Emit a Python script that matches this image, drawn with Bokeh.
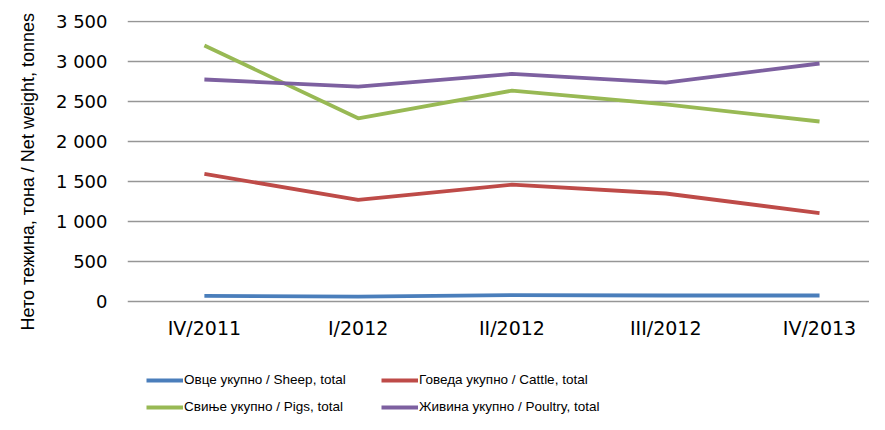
from bokeh.plotting import figure
from bokeh.models import Range1d, FixedTicker, Legend, LegendItem, Title
from bokeh.embed import file_html
from bokeh.resources import INLINE

categories = ["IV/2011", "I/2012", "II/2012", "III/2012", "IV/2013"]
sheep = [70, 60, 80, 75, 75]
cattle = [1595, 1270, 1460, 1350, 1105]
pigs = [3200, 2290, 2635, 2465, 2250]
poultry = [2775, 2685, 2845, 2735, 2975]

y_ticks = [0, 500, 1000, 1500, 2000, 2500, 3000, 3500]
y_tick_labels = ["0", "500", "1 000", "1 500", "2 000", "2 500", "3 000", "3 500"]

series_names = [
    "Овце укупно / Sheep, total",
    "Говеда укупно / Cattle, total",
    "Свиње укупно / Pigs, total",
    "Живина укупно / Poultry, total",
]
series_colors = ["#4a7ebb", "#be4b48", "#98b954", "#7d60a0"]
y_title = "Нето тежина, тона / Net weight, tonnes"

x = list(range(len(categories)))

p = figure(width=869, height=414, output_backend="svg", toolbar_location=None,
           x_range=Range1d(-0.5, 4.325), y_range=Range1d(-1412.5, 3512.5),
           min_border_left=126, min_border_right=0, min_border_top=20,
           min_border_bottom=0)
p.outline_line_color = None
p.xgrid.grid_line_color = None
p.ygrid.grid_line_color = "#969696"
p.ygrid.grid_line_width = 1.6
p.ygrid.ticker = FixedTicker(ticks=y_ticks)

p.yaxis.ticker = FixedTicker(ticks=y_ticks)
p.yaxis.major_label_overrides = dict(zip(y_ticks, y_tick_labels))
p.yaxis.axis_line_color = None
p.yaxis.major_tick_line_color = None
p.yaxis.minor_tick_line_color = None
p.yaxis.major_label_text_font = "DejaVu Sans"
p.yaxis.major_label_text_font_size = "18px"
p.yaxis.major_label_text_color = "#000000"
p.yaxis.major_label_standoff = 14

p.xaxis.ticker = FixedTicker(ticks=x)
p.xaxis.fixed_location = 0
p.xaxis.major_label_overrides = dict(zip(x, categories))
p.xaxis.axis_line_color = None
p.xaxis.major_tick_line_color = None
p.xaxis.minor_tick_line_color = None
p.xaxis.major_label_text_font = "DejaVu Sans"
p.xaxis.major_label_text_font_size = "19px"
p.xaxis.major_label_text_color = "#000000"
p.xaxis.major_label_standoff = 9

renderers = []
for vals, col in zip([sheep, cattle, pigs, poultry], series_colors):
    r = p.line(x, vals, line_color=col, line_width=3.8)
    renderers.append(r)

items = [LegendItem(label=n, renderers=[r]) for n, r in zip(series_names, renderers)]
lg = Legend(items=items, location=(19, 0), orientation="horizontal", ncols=2,
            glyph_width=37, glyph_height=14, label_height=14, label_width=185,
            label_standoff=1, spacing=12, padding=0, margin=0,
            border_line_color=None, background_fill_alpha=0,
            label_text_font="Liberation Sans", label_text_font_size="13.5px",
            label_text_color="#000000")
p.add_layout(lg, "center")

t = Title(text=y_title, align="left", offset=84, text_font="Liberation Sans",
          text_font_size="18px", text_font_style="normal", text_color="#000000",
          standoff=30)
p.add_layout(t, "left")

open("out.html", "w").write(file_html(p, INLINE))
